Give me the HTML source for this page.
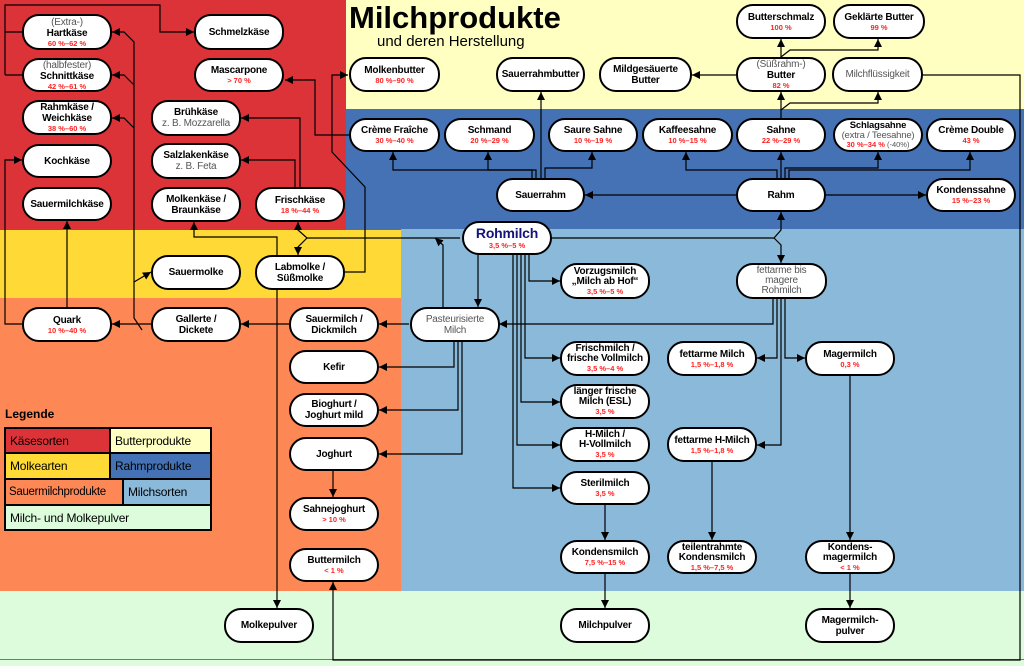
<!DOCTYPE html>
<html><head><meta charset="utf-8"><style>
*{margin:0;padding:0;box-sizing:border-box}
body{width:1024px;height:666px;position:relative;overflow:hidden;font-family:"Liberation Sans",sans-serif;background:#dcfcdc}
.r{position:absolute}
.n{position:absolute;background:#fff;border:2px solid #000;border-radius:17px;display:flex;flex-direction:column;align-items:center;justify-content:center;text-align:center;font-weight:bold;font-size:10px;line-height:11px;color:#000;z-index:2;white-space:nowrap;letter-spacing:-0.2px}
.n i{font-style:normal;color:#f22;font-size:7.5px;line-height:9px;letter-spacing:0}
.n s{text-decoration:none;font-weight:normal;color:#555}
svg{position:absolute;left:0;top:0;z-index:1}
.lg{position:absolute;font-size:12px;padding-left:4px;display:flex;align-items:center;border:1px solid #000;white-space:nowrap;overflow:hidden;letter-spacing:-0.2px}
</style></head><body>
<div class="r" style="left:0;top:0;width:346px;height:230px;background:#dc3339"></div>
<div class="r" style="left:346px;top:0;width:678px;height:109px;background:#ffffc2"></div>
<div class="r" style="left:346px;top:109px;width:678px;height:121px;background:#4472b4"></div>
<div class="r" style="left:0;top:230px;width:401px;height:68px;background:#ffd935"></div>
<div class="r" style="left:0;top:298px;width:401px;height:293px;background:#fe8756"></div>
<div class="r" style="left:401px;top:229px;width:623px;height:362px;background:#8ab9da"></div>
<div class="r" style="left:0;top:659px;width:1024px;height:1px;background:#777"></div>

<div class="r" style="left:349px;top:0;font-size:31px;font-weight:bold;line-height:36px">Milchprodukte</div>
<div class="r" style="left:377px;top:33px;font-size:15px;line-height:18px">und deren Herstellung</div>

<svg width="1024" height="666" viewBox="0 0 1024 666">
<defs><marker id="a" viewBox="0 0 10 10" refX="10" refY="5" markerWidth="8" markerHeight="8" markerUnits="userSpaceOnUse" orient="auto"><path d="M0,0L10,5L0,10z"/></marker></defs>
<g fill="none" stroke="#000" stroke-width="1.2">
<path d="M22,75H5"/>
<path d="M22,32H5"/>
</g>
<g fill="none" stroke="#000" stroke-width="1.2" marker-end="url(#a)">
<path d="M5,75V5H160V32H194"/>
<path d="M22,324H5V160H22"/>
<path d="M67,307V221"/>
<path d="M151,324H112"/>
<path d="M142,330L134,318V42L124,32H112"/>
<path d="M134,85L124,75H112"/>
<path d="M134,128L124,118H112"/>
<path d="M134,282L151,272"/>
<path d="M277,290V237H194V222"/>
<path d="M277,290V608"/>
<path d="M460,238H307L298,230V222"/>
<path d="M307,238L298,247V255"/>
<path d="M295,187V160H241"/>
<path d="M300,187V118H241"/>
<path d="M349,135H315V80H285"/>
<path d="M345,272H365V187L332,152V75H348"/>
<path d="M443,307V245L435,238"/>
<path d="M532,178V170H393V152"/>
<path d="M536,178V170H488V152"/>
<path d="M545,178V168H592V152"/>
<path d="M541,178V92"/>
<path d="M736,195H585"/>
<path d="M826,195H926"/>
<path d="M777,178V170H686V152"/>
<path d="M781,178V152"/>
<path d="M785,178V168H878V152"/>
<path d="M789,178V170H970V152"/>
<path d="M781,118V92"/>
<path d="M781,110L790,103H878V92"/>
<path d="M781,57V39"/>
<path d="M781,57L790,50H878V39"/>
<path d="M736,75H692"/>
<path d="M923,75H1020V660H333V582"/>
<path d="M551,238H774L781,230V212"/>
<path d="M774,238L781,245V263"/>
<path d="M478,255V307"/>
<path d="M529,255V281H560"/>
<path d="M525,255V358H560"/>
<path d="M521,255V402H560"/>
<path d="M517,255V445H560"/>
<path d="M513,255V488H560"/>
<path d="M773,299V324H499"/>
<path d="M777,299V358H757"/>
<path d="M781,299V445H757"/>
<path d="M785,299V358H805"/>
<path d="M409,324H379"/>
<path d="M289,324H241"/>
<path d="M454,342V367H379"/>
<path d="M458,342V410H379"/>
<path d="M462,342V454H379"/>
<path d="M333,471V497"/>
<path d="M605,505V540"/>
<path d="M605,574V608"/>
<path d="M712,462V540"/>
<path d="M850,376V540"/>
<path d="M850,574V608"/>
</g></svg>

<div class="n" style="left:22px;top:14px;width:90px;height:36px"><s>(Extra-)</s>Hartkäse<i>60 %–62 %</i></div>
<div class="n" style="left:22px;top:58px;width:90px;height:34px"><s>(halbfester)</s>Schnittkäse<i>42 %–61 %</i></div>
<div class="n" style="left:22px;top:100px;width:90px;height:35px">Rahmkäse /<br>Weichkäse<i>38 %–60 %</i></div>
<div class="n" style="left:22px;top:144px;width:90px;height:34px">Kochkäse</div>
<div class="n" style="left:22px;top:187px;width:90px;height:34px">Sauermilchkäse</div>
<div class="n" style="left:194px;top:14px;width:90px;height:36px">Schmelzkäse</div>
<div class="n" style="left:194px;top:58px;width:90px;height:34px">Mascarpone<i>&gt; 70 %</i></div>
<div class="n" style="left:151px;top:100px;width:90px;height:36px">Brühkäse<s>z. B. Mozzarella</s></div>
<div class="n" style="left:151px;top:143px;width:90px;height:36px">Salzlakenkäse<s>z. B. Feta</s></div>
<div class="n" style="left:151px;top:187px;width:90px;height:35px">Molkenkäse /<br>Braunkäse</div>
<div class="n" style="left:255px;top:187px;width:90px;height:35px">Frischkäse<i>18 %–44 %</i></div>
<div class="n" style="left:151px;top:255px;width:90px;height:35px">Sauermolke</div>
<div class="n" style="left:255px;top:255px;width:90px;height:35px">Labmolke /<br>Süßmolke</div>

<div class="n" style="left:349px;top:57px;width:91px;height:35px">Molkenbutter<i>80 %–90 %</i></div>
<div class="n" style="left:496px;top:57px;width:89px;height:35px">Sauerrahmbutter</div>
<div class="n" style="left:599px;top:57px;width:93px;height:35px">Mildgesäuerte<br>Butter</div>
<div class="n" style="left:736px;top:57px;width:90px;height:35px"><s>(Süßrahm-)</s>Butter<i>82 %</i></div>
<div class="n" style="left:832px;top:57px;width:91px;height:35px"><s>Milchflüssigkeit</s></div>
<div class="n" style="left:736px;top:4px;width:90px;height:35px">Butterschmalz<i>100 %</i></div>
<div class="n" style="left:833px;top:4px;width:92px;height:35px">Geklärte Butter<i>99 %</i></div>

<div class="n" style="left:349px;top:118px;width:91px;height:34px">Crème Fraîche<i>30 %–40 %</i></div>
<div class="n" style="left:444px;top:118px;width:91px;height:34px">Schmand<i>20 %–29 %</i></div>
<div class="n" style="left:548px;top:118px;width:90px;height:34px">Saure Sahne<i>10 %–19 %</i></div>
<div class="n" style="left:642px;top:118px;width:91px;height:34px">Kaffeesahne<i>10 %–15 %</i></div>
<div class="n" style="left:736px;top:118px;width:90px;height:34px">Sahne<i>22 %–29 %</i></div>
<div class="n" style="left:833px;top:118px;width:90px;height:34px;line-height:9.5px;font-size:9.5px">Schlagsahne<s>(extra / Teesahne)</s><i>30 %–34 % <span style="color:#555;font-weight:normal">(-40%)</span></i></div>
<div class="n" style="left:926px;top:118px;width:90px;height:34px">Crème Double<i>43 %</i></div>
<div class="n" style="left:496px;top:178px;width:89px;height:34px">Sauerrahm</div>
<div class="n" style="left:736px;top:178px;width:90px;height:34px">Rahm</div>
<div class="n" style="left:926px;top:178px;width:90px;height:34px">Kondenssahne<i>15 %–23 %</i></div>

<div class="n" style="left:462px;top:221px;width:90px;height:34px;color:#14147a;font-size:14px;line-height:15px">Rohmilch<i>3,5 %–5 %</i></div>
<div class="n" style="left:560px;top:263px;width:90px;height:36px;line-height:10px">Vorzugsmilch<br>„Milch ab Hof“<i>3,5 %–5 %</i></div>
<div class="n" style="left:736px;top:263px;width:91px;height:36px;line-height:10px"><s>fettarme bis<br>magere<br>Rohmilch</s></div>
<div class="n" style="left:410px;top:307px;width:90px;height:35px"><s>Pasteurisierte<br>Milch</s></div>
<div class="n" style="left:560px;top:341px;width:90px;height:35px;line-height:10px">Frischmilch /<br>frische Vollmilch<i>3,5 %–4 %</i></div>
<div class="n" style="left:667px;top:341px;width:90px;height:35px">fettarme Milch<i>1,5 %–1,8 %</i></div>
<div class="n" style="left:805px;top:341px;width:90px;height:35px">Magermilch<i>0,3 %</i></div>
<div class="n" style="left:560px;top:384px;width:90px;height:35px;line-height:10px">länger frische<br>Milch (ESL)<i>3,5 %</i></div>
<div class="n" style="left:560px;top:427px;width:90px;height:35px;line-height:10px">H-Milch /<br>H-Vollmilch<i>3,5 %</i></div>
<div class="n" style="left:667px;top:427px;width:90px;height:35px">fettarme H-Milch<i>1,5 %–1,8 %</i></div>
<div class="n" style="left:560px;top:471px;width:90px;height:34px">Sterilmilch<i>3,5 %</i></div>
<div class="n" style="left:560px;top:540px;width:90px;height:34px">Kondensmilch<i>7,5 %–15 %</i></div>
<div class="n" style="left:667px;top:540px;width:90px;height:34px;line-height:10px">teilentrahmte<br>Kondensmilch<i>1,5 %–7,5 %</i></div>
<div class="n" style="left:805px;top:540px;width:90px;height:34px;line-height:10px">Kondens-<br>magermilch<i>&lt; 1 %</i></div>
<div class="n" style="left:560px;top:608px;width:90px;height:35px">Milchpulver</div>
<div class="n" style="left:805px;top:608px;width:90px;height:35px">Magermilch-<br>pulver</div>

<div class="n" style="left:22px;top:307px;width:90px;height:35px">Quark<i>10 %–40 %</i></div>
<div class="n" style="left:151px;top:307px;width:90px;height:35px">Gallerte /<br>Dickete</div>
<div class="n" style="left:289px;top:307px;width:90px;height:35px">Sauermilch /<br>Dickmilch</div>
<div class="n" style="left:289px;top:350px;width:90px;height:34px">Kefir</div>
<div class="n" style="left:289px;top:393px;width:90px;height:34px">Bioghurt /<br>Joghurt mild</div>
<div class="n" style="left:289px;top:437px;width:90px;height:34px">Joghurt</div>
<div class="n" style="left:289px;top:497px;width:90px;height:34px">Sahnejoghurt<i>&gt; 10 %</i></div>
<div class="n" style="left:289px;top:548px;width:90px;height:34px">Buttermilch<i>&lt; 1 %</i></div>
<div class="n" style="left:224px;top:608px;width:90px;height:35px">Molkepulver</div>

<div class="r" style="left:5px;top:407px;font-size:12px;font-weight:bold">Legende</div>
<div class="r" style="left:4px;top:427px;width:208px;height:104px;border:1px solid #000;background:#000"></div>
<div class="lg" style="left:5px;top:428px;width:105px;height:25px;background:#dc3339">Käsesorten</div>
<div class="lg" style="left:110px;top:428px;width:101px;height:25px;background:#ffffc2">Butterprodukte</div>
<div class="lg" style="left:5px;top:453px;width:105px;height:26px;background:#ffd935">Molkearten</div>
<div class="lg" style="left:110px;top:453px;width:101px;height:26px;background:#4472b4">Rahmprodukte</div>
<div class="lg" style="left:5px;top:479px;width:118px;height:26px;background:#fe8756;padding-left:3px;font-size:11.5px;letter-spacing:-0.3px">Sauermilchprodukte</div>
<div class="lg" style="left:123px;top:479px;width:88px;height:26px;background:#8ab9da">Milchsorten</div>
<div class="lg" style="left:5px;top:505px;width:206px;height:25px;background:#dcfcdc">Milch- und Molkepulver</div>
</body></html>
